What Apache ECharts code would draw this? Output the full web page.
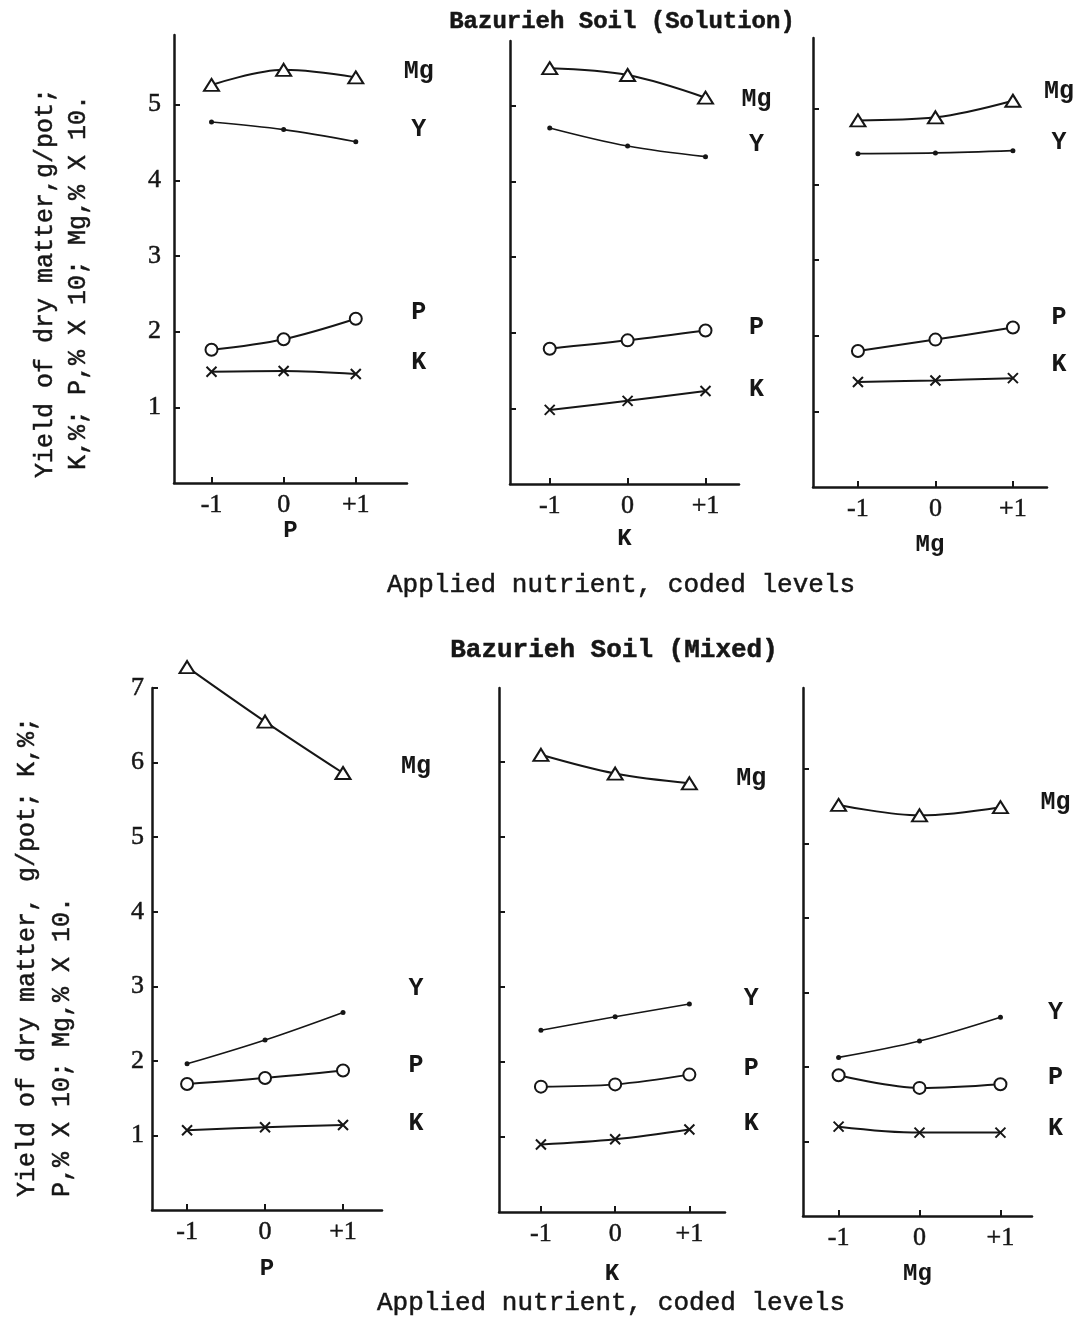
<!DOCTYPE html>
<html>
<head>
<meta charset="utf-8">
<title>Bazurieh Soil</title>
<script src="https://cdn.jsdelivr.net/npm/echarts@6.0.0/dist/echarts.min.js"></script>
<style>
  html, body { margin: 0; padding: 0; background: #fff; }
  #main { width: 1077px; height: 1319px; }
</style>
</head>
<body>
<div id="main"></div>
<script>
// coded levels of the applied nutrient
var levels = [-1, 0, 1];
var xTickLabels = ['-1', '0', '+1'];
var yTicksSolution = [1, 2, 3, 4, 5];
var yTicksMixed = [1, 2, 3, 4, 5, 6, 7];

// Bazurieh Soil (Solution) - applied P
var solP_Mg = [5.26, 5.46, 5.36];
var solP_Y = [4.77, 4.67, 4.51];
var solP_P = [1.76, 1.90, 2.17];
var solP_K = [1.47, 1.48, 1.44];
// Bazurieh Soil (Solution) - applied K
var solK_Mg = [5.50, 5.41, 5.11];
var solK_Y = [4.71, 4.47, 4.33];
var solK_P = [1.79, 1.90, 2.03];
var solK_K = [0.98, 1.10, 1.23];
// Bazurieh Soil (Solution) - applied Mg
var solMg_Mg = [4.85, 4.89, 5.11];
var solMg_Y = [4.41, 4.42, 4.45];
var solMg_P = [1.80, 1.95, 2.11];
var solMg_K = [1.39, 1.41, 1.44];

// Bazurieh Soil (Mixed) - applied P
var mixP_Mg = [7.28, 6.55, 5.86];
var mixP_Y = [1.96, 2.28, 2.65];
var mixP_P = [1.69, 1.77, 1.87];
var mixP_K = [1.07, 1.11, 1.14];
// Bazurieh Soil (Mixed) - applied K
var mixK_Mg = [6.09, 5.84, 5.71];
var mixK_Y = [2.42, 2.60, 2.77];
var mixK_P = [1.67, 1.70, 1.83];
var mixK_K = [0.90, 0.97, 1.10];
// Bazurieh Soil (Mixed) - applied Mg
var mixMg_Mg = [5.52, 5.38, 5.49];
var mixMg_Y = [2.13, 2.35, 2.67];
var mixMg_P = [1.89, 1.72, 1.77];
var mixMg_K = [1.20, 1.12, 1.12];

var ink = '#161616';
var mono = '"Liberation Mono", "DejaVu Sans Mono", monospace';
var serif = '"Liberation Serif", "DejaVu Serif", serif';

// panel placement, one per small chart
var panels = [
  { name: 'P', left: 174, top: 35, width: 233, height: 448, xMin: -1.52, xMax: 1.71, yMax: 5.92,
    yTicks: yTicksSolution, yLabels: true, nameGap: 32, labelGap: 63,
    dy: { Mg: -6, Y: -12, P: -6, K: -11 },
    data: { Mg: solP_Mg, Y: solP_Y, P: solP_P, K: solP_K } },
  { name: 'K', left: 510, top: 41, width: 229, height: 443, xMin: -1.51, xMax: 1.43, yMax: 5.86,
    yTicks: yTicksSolution, yLabels: false, nameGap: 43, labelGap: 51,
    dy: { Mg: 2, Y: -12, P: -3, K: -1 },
    data: { Mg: solK_Mg, Y: solK_Y, P: solK_P, K: solK_K } },
  { name: 'Mg', left: 813, top: 38, width: 234, height: 449, xMin: -1.58, xMax: 1.44, yMax: 5.94,
    yTicks: yTicksSolution, yLabels: false, nameGap: 46, labelGap: 46,
    dy: { Mg: -9, Y: -8, P: -10, K: -13 },
    data: { Mg: solMg_Mg, Y: solMg_Y, P: solMg_P, K: solMg_K } },
  { name: 'P', left: 152, top: 688, width: 230, height: 522, xMin: -1.45, xMax: 1.50, yMax: 7.0,
    yTicks: yTicksMixed, yLabels: true, nameGap: 47, labelGap: 73,
    dy: { Mg: -6, Y: -24, P: -5, K: -1 },
    data: { Mg: mixP_Mg, Y: mixP_Y, P: mixP_P, K: mixP_K } },
  { name: 'K', left: 499, top: 688, width: 226, height: 524, xMin: -1.565, xMax: 1.48, yMax: 6.98,
    yTicks: yTicksMixed.slice(0, 6), yLabels: false, nameGap: 50, labelGap: 62,
    dy: { Mg: -5, Y: -5, P: -6, K: -6 },
    data: { Mg: mixK_Mg, Y: mixK_Y, P: mixK_P, K: mixK_K } },
  { name: 'Mg', left: 803, top: 688, width: 229, height: 528, xMin: -1.44, xMax: 1.39, yMax: 7.09,
    yTicks: yTicksMixed.slice(0, 6), yLabels: false, nameGap: 46, labelGap: 55,
    dy: { Mg: -4, Y: -4, P: -6, K: -4 },
    data: { Mg: mixMg_Mg, Y: mixMg_Y, P: mixMg_P, K: mixMg_K } }
];

// marker per measured quantity
var markers = {
  Mg: { symbol: 'triangle', size: [15, 12], fill: '#fff' },
  Y: { symbol: 'circle', size: 5, fill: ink },
  P: { symbol: 'circle', size: 12, fill: '#fff' },
  K: { symbol: 'path://M0,0L10,10M10,0L0,10', size: 10, fill: 'none' }
};

// typewriter ink is heavier than the fonts, so thicken glyphs a little
var heavy = { textBorderColor: ink, textBorderWidth: 0.5 };

var grids = [], xAxes = [], yAxes = [], series = [];

panels.forEach(function (p, i) {
  grids.push({ left: p.left, top: p.top, width: p.width, height: p.height, containLabel: false, outerBoundsMode: 'none' });

  xAxes.push({
    gridIndex: i,
    type: 'value',
    min: p.xMin,
    max: p.xMax,
    name: p.name,
    nameLocation: 'middle',
    nameGap: p.nameGap,
    nameTextStyle: { fontFamily: mono, fontSize: 24, fontWeight: 'bold', color: ink },
    axisLine: { onZero: false, lineStyle: { color: ink, width: 2.5 } },
    axisTick: { show: true, inside: true, length: 6, customValues: levels, lineStyle: { color: ink, width: 2 } },
    axisLabel: Object.assign({
      customValues: levels,
      margin: 9,
      fontFamily: serif,
      fontSize: 26,
      color: ink,
      formatter: function (v) { return xTickLabels[levels.indexOf(v)]; }
    }, heavy),
    splitLine: { show: false }
  });

  yAxes.push({
    gridIndex: i,
    type: 'value',
    min: 0,
    max: p.yMax,
    axisLine: { show: true, onZero: false, lineStyle: { color: ink, width: 2.5 } },
    axisTick: { show: true, inside: true, length: 6, customValues: p.yTicks, lineStyle: { color: ink, width: 2 } },
    axisLabel: Object.assign({ show: p.yLabels, customValues: p.yTicks, margin: i === 0 ? 13 : 8,
      fontFamily: serif, fontSize: 26, color: ink }, heavy),
    splitLine: { show: false }
  });

  ['Mg', 'Y', 'P', 'K'].forEach(function (key) {
    var m = markers[key];
    series.push({
      type: 'line',
      name: key,
      xAxisIndex: i,
      yAxisIndex: i,
      data: levels.map(function (x, k) { return [x, p.data[key][k]]; }),
      smooth: 0.35,
      clip: false,
      symbol: m.symbol,
      symbolSize: m.size,
      showAllSymbol: true,
      lineStyle: { color: ink, width: key === 'Y' ? 1.6 : 2 },
      itemStyle: { color: m.fill, borderColor: ink, borderWidth: key === 'Y' ? 0 : 2 },
      endLabel: {
        show: true,
        formatter: key,
        distance: p.labelGap,
        align: 'center',
        verticalAlign: 'middle',
        offset: [0, p.dy[key]],
        fontFamily: mono,
        fontSize: 25,
        fontWeight: 'bold',
        color: ink
      },
      emphasis: { disabled: true },
      animation: false
    });
  });
});

function label(text, x, y, font, align, rotation) {
  return {
    type: 'text', x: x, y: y, rotation: rotation || 0,
    style: { text: text, font: font, fill: ink, stroke: ink, lineWidth: 0.5, align: align, verticalAlign: 'middle' }
  };
}

var chart = echarts.init(document.getElementById('main'), null, { renderer: 'canvas' });
chart.setOption({
  backgroundColor: '#fff',
  animation: false,
  grid: grids,
  xAxis: xAxes,
  yAxis: yAxes,
  series: series,
  graphic: [
    label('Bazurieh Soil (Solution)', 622, 22, 'bold 24px ' + mono, 'center'),
    label('Bazurieh Soil (Mixed)', 614, 650, 'bold 26px ' + mono, 'center'),
    label('Applied nutrient, coded levels', 387, 585, '26px ' + mono, 'left'),
    label('Applied nutrient, coded levels', 377, 1303, '26px ' + mono, 'left'),
    // rotated y titles, reading bottom to top
    label('Yield of dry matter,g/pot;', 45, 478, '25px ' + mono, 'left', Math.PI / 2),
    label('K,%; P,% X 10; Mg,% X 10.', 78, 470, '25px ' + mono, 'left', Math.PI / 2),
    label('Yield of dry matter, g/pot; K,%;', 27, 1197, '25px ' + mono, 'left', Math.PI / 2),
    label('P,% X 10; Mg,% X 10.', 62, 1197, '25px ' + mono, 'left', Math.PI / 2)
  ]
});
</script>
</body>
</html>
